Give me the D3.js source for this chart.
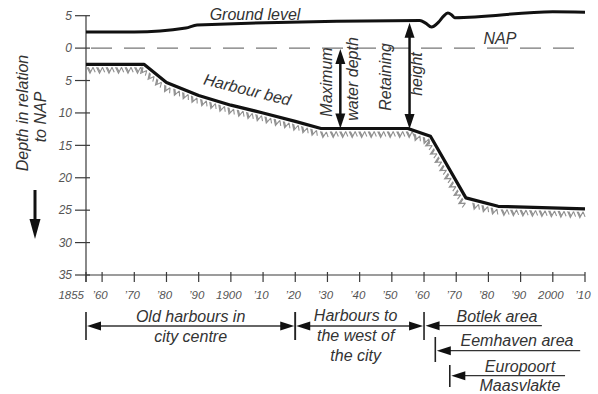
<!DOCTYPE html>
<html>
<head>
<meta charset="utf-8">
<script src="https://cdn.jsdelivr.net/npm/d3@7/dist/d3.min.js"></script>
<style>
  html, body { margin: 0; padding: 0; background: #fff; }
  svg { display: block; }
  text { font-family: "Liberation Sans", Arial, sans-serif; font-style: italic; fill: #333; }
</style>
</head>
<body>
<svg id="chart" width="598" height="394"></svg>
<script>
// Axis ticks
const yearTicks = [1855, 1860, 1870, 1880, 1890, 1900, 1910, 1920, 1930, 1940, 1950, 1960, 1970, 1980, 1990, 2000, 2010];
const yearTickLabels = ["1855", "’60", "’70", "’80", "’90", "1900", "’10", "’20", "’30", "’40", "’50", "’60", "’70", "’80", "’90", "2000", "’10"];
const depthTicks = [-5, 0, 5, 10, 15, 20, 25, 30, 35];
const depthTickLabels = ["5", "0", "5", "10", "15", "20", "25", "30", "35"];

// Ground level (depth in m relative to NAP, negative = above NAP)
const groundYears = [1855, 1870, 1886, 1889.5, 1958.7, 1960.5, 1962.3, 1964.5, 1966, 1967.4, 1968.5, 1969.5, 2000, 2010];
const groundDepth = [-2.5, -2.5, -3.1, -3.55, -4.25, -3.85, -3.25, -4.0, -4.9, -5.4, -5.15, -4.7, -5.6, -5.55];

// Harbour bed depth (m below NAP)
const bedYears = [1855, 1873, 1880, 1890, 1900, 1910, 1920, 1928, 1955, 1962, 1973, 1983, 2010];
const bedDepth = [2.5, 2.5, 5.3, 7.3, 8.8, 10.0, 11.3, 12.4, 12.4, 13.6, 23.1, 24.4, 24.8];

// Dimension arrows
const waterDepthYear = 1934;
const retainingYear = 1955.5;

// Development periods below the time axis
const periodNames = [["Old harbours in", "city centre"], ["Harbours to", "the west of", "the city"], ["Botlek area"], ["Eemhaven area"], ["Europoort", "Maasvlakte"]];
const periodStart = [1855, 1920, 1960, 1963.5, 1968];
const periodEnd = [1920, 1960, 1996.6, 2008.5, 2003.8];

const svg = d3.select("#chart");

const x = d3.scaleLinear().domain([1855, 2010]).range([86, 585]);
const y = d3.scaleLinear().domain([-5, 35]).range([15.7, 275]);

const interp = (xs, ys, v) => {
  const i = Math.max(1, Math.min(xs.length - 1, d3.bisectRight(xs, v)));
  const t = (v - xs[i - 1]) / (xs[i] - xs[i - 1]);
  return ys[i - 1] + t * (ys[i] - ys[i - 1]);
};

const axisColor = "#3a3a3a";

// Y axis
svg.append("line").attr("x1", x(1855)).attr("x2", x(1855))
  .attr("y1", y(-5)).attr("y2", y(35) + 7)
  .attr("stroke", axisColor).attr("stroke-width", 1.2);
const yt = svg.append("g");
depthTicks.forEach((d, i) => {
  yt.append("line").attr("x1", x(1855) - 11).attr("x2", x(1855) + 4)
    .attr("y1", y(d)).attr("y2", y(d)).attr("stroke", axisColor).attr("stroke-width", 1.2);
  yt.append("text").attr("x", x(1855) - 14).attr("y", y(d)).attr("dy", "0.36em")
    .attr("text-anchor", "end").attr("font-size", 12).style("fill", "#555")
    .text(depthTickLabels[i]);
});

// X axis
svg.append("line").attr("x1", x(1855)).attr("x2", x(2010))
  .attr("y1", y(35)).attr("y2", y(35))
  .attr("stroke", axisColor).attr("stroke-width", 1.2);
const xt = svg.append("g");
yearTicks.forEach((yr, i) => {
  xt.append("line").attr("x1", x(yr)).attr("x2", x(yr))
    .attr("y1", y(35) - 3).attr("y2", y(35) + 7)
    .attr("stroke", axisColor).attr("stroke-width", 1.2);
  const first = i === 0;
  xt.append("text").attr("x", x(yr) - 2).attr("y", y(35) + 24)
    .attr("text-anchor", first ? "end" : "middle").attr("font-size", 11.5)
    .style("fill", "#555").text(yearTickLabels[i]);
});

// NAP reference line
svg.append("line").attr("x1", x(1855) + 5).attr("x2", x(2010))
  .attr("y1", y(0)).attr("y2", y(0))
  .attr("stroke", "#777").attr("stroke-width", 1.4).attr("stroke-dasharray", "21,12");
svg.append("text").attr("x", 500).attr("y", y(0) - 4).attr("text-anchor", "middle")
  .attr("font-size", 16).text("NAP");

// Ground level
const groundLine = d3.line().x((d, i) => x(groundYears[i])).y(d => y(d)).curve(d3.curveMonotoneX);
svg.append("path").attr("d", groundLine(groundDepth)).attr("fill", "none")
  .attr("stroke", "#111").attr("stroke-width", 3).attr("stroke-linejoin", "round");
svg.append("text").attr("x", 255).attr("y", 20).attr("text-anchor", "middle")
  .attr("font-size", 16).text("Ground level");

// Harbour bed with soil hatching underneath
const bedLine = d3.line().x((d, i) => x(bedYears[i])).y(d => y(d));
const bedPath = svg.append("path").attr("d", bedLine(bedDepth)).attr("fill", "none")
  .attr("stroke", "#111").attr("stroke-width", 3.2).attr("stroke-linejoin", "round");

const node = bedPath.node();
const total = node.getTotalLength();
const hatch = svg.insert("g", "path");
for (let s = 1; s < total - 6; s += 9.5) {
  const p = node.getPointAtLength(s);
  const q = node.getPointAtLength(Math.min(total, s + 1));
  let tx = q.x - p.x, ty = q.y - p.y;
  const len = Math.hypot(tx, ty) || 1;
  tx /= len; ty /= len;
  const nx = -ty, ny = tx;
  const pt = (u, v) => [p.x + u * tx + v * nx, p.y + u * ty + v * ny].map(c => c.toFixed(2)).join(",");
  // soil symbol: a chevron with short side strokes
  const d = `M${pt(0, 3)}L${pt(3, 9)}L${pt(6, 3)}M${pt(1.2, 3)}L${pt(3.6, 7.5)}M${pt(6, 3)}L${pt(8.2, 8)}`;
  hatch.append("path").attr("d", d)
    .attr("fill", "none").attr("stroke", "#909090").attr("stroke-width", 1.1);
}

svg.append("text").attr("transform", "translate(246,95) rotate(14)")
  .attr("text-anchor", "middle").attr("font-size", 16).text("Harbour bed");

// Double-headed vertical arrows
function vArrow(xp, y1, y2) {
  const hl = 15, hw = 5;
  svg.append("line").attr("x1", xp).attr("x2", xp).attr("y1", y1 + hl - 2).attr("y2", y2 - hl + 2)
    .attr("stroke", "#111").attr("stroke-width", 2.5);
  svg.append("path").attr("d", `M${xp},${y1}L${xp - hw},${y1 + hl}L${xp + hw},${y1 + hl}Z`).attr("fill", "#111");
  svg.append("path").attr("d", `M${xp},${y2}L${xp - hw},${y2 - hl}L${xp + hw},${y2 - hl}Z`).attr("fill", "#111");
}
vArrow(x(waterDepthYear), y(0) + 1, y(interp(bedYears, bedDepth, waterDepthYear)));
vArrow(x(retainingYear), y(interp(groundYears, groundDepth, retainingYear)) + 2, y(interp(bedYears, bedDepth, retainingYear)));

function vText(cx, cy, str) {
  svg.append("text").attr("transform", `translate(${cx},${cy}) rotate(-90)`)
    .attr("text-anchor", "middle").attr("dy", "0.35em").attr("font-size", 16).text(str);
}
vText(326, 82, "Maximum");
vText(352, 79, "water depth");
vText(385, 77, "Retaining");
vText(416, 74, "height");

// Y axis title and downward arrow
vText(22, 113, "Depth in relation");
vText(40, 117, "to NAP");
svg.append("line").attr("x1", 35).attr("x2", 35).attr("y1", 190).attr("y2", 222)
  .attr("stroke", "#111").attr("stroke-width", 3);
svg.append("path").attr("d", "M35,239L29.5,219L40.5,219Z").attr("fill", "#111");

// Period annotations
function hArrowHead(xTip, yy, dir) {
  const hl = 14, hw = 4.5;
  svg.append("path").attr("d", `M${xTip},${yy}L${xTip + dir * hl},${yy - hw}L${xTip + dir * hl},${yy + hw}Z`).attr("fill", "#111");
}
function vTick(xp, y1, y2) {
  svg.append("line").attr("x1", xp).attr("x2", xp).attr("y1", y1).attr("y2", y2)
    .attr("stroke", "#222").attr("stroke-width", 1.6);
}
function hLine(x1, x2, yy) {
  svg.append("line").attr("x1", x1).attr("x2", x2).attr("y1", yy).attr("y2", yy)
    .attr("stroke", "#333").attr("stroke-width", 1.3);
}
function label(cx, by, lines, gap) {
  lines.forEach((t, i) => {
    svg.append("text").attr("x", cx).attr("y", by + i * gap).attr("text-anchor", "middle")
      .attr("font-size", 16).text(t);
  });
}

// Bracketed periods (both ends marked)
const rowY = 326;
[0, 1].forEach(i => {
  const a = x(periodStart[i]), b = x(periodEnd[i]);
  vTick(a, 312, 340);
  vTick(b, 312, 340);
  hLine(a + 6, b - 6, rowY);
  hArrowHead(a + 1, rowY, 1);
  hArrowHead(b - 1, rowY, -1);
});
label((x(periodStart[0]) + x(periodEnd[0])) / 2, 321.5, periodNames[0], 20);
label((x(periodStart[1]) + x(periodEnd[1])) / 2 - 4, 321, periodNames[1], 20);

// Open-ended periods (start marked, continuing)
const openRows = [
  { y: 325.7, tickTop: 312, tickBot: 339, textX: 497, textY: 321.5, gap: 20 },
  { y: 350.7, tickTop: 337, tickBot: 362, textX: 517, textY: 346, gap: 20 },
  { y: 375.7, tickTop: 365, tickBot: 387, textX: 520, textY: 371.5, gap: 19.5 }
];
openRows.forEach((r, k) => {
  const i = k + 2;
  const a = x(periodStart[i]), b = x(periodEnd[i]);
  if (k > 0) vTick(a, r.tickTop, r.tickBot);
  hLine(a + 6, b, r.y);
  hArrowHead(a + 1.5, r.y, 1);
  label(r.textX, r.textY, periodNames[i], r.gap);
});
</script>
</body>
</html>
